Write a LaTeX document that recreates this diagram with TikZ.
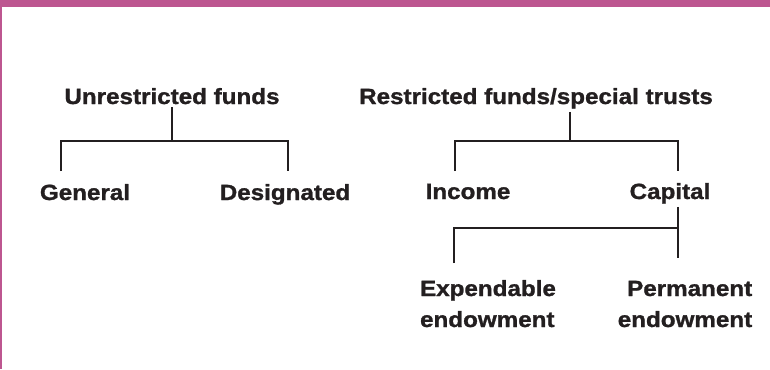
\documentclass[tikz,border=0pt]{standalone}
\usepackage{fontspec}
\setmainfont{Liberation Sans}[BoldFeatures={FakeStretch=1.1,FakeBold=1.2}]
\definecolor{frame}{HTML}{BD5690}
\definecolor{ink}{HTML}{231F20}
\begin{document}
\begin{tikzpicture}[x=1pt,y=-1pt,
  label/.style={inner sep=3pt, font=\fontsize{22}{31}\selectfont\bfseries, text=ink},
  tree/.style={draw=ink, line width=1.6pt}]
\useasboundingbox (0,0) rectangle (770,369);
% frame: top band and left rule
\fill[frame] (0,0) rectangle (770,7);
\fill[frame] (0,0) rectangle (2,369);

% unrestricted funds
\node[label, anchor=base] (ur) at (172,104) {Unrestricted funds};
\node[label, anchor=base] (gen) at (85,200) {General};
\node[label, anchor=base] (des) at (285,200) {Designated};
\coordinate (urJ) at (172,141);
\coordinate (genT) at (61,171);
\coordinate (desT) at (288,171);
\draw[tree] (ur.south) -- (urJ);
\draw[tree] (genT) |- (urJ) -| (desT);

% restricted funds
\node[label, anchor=base] (rf) at (536,104) {Restricted funds/special trusts};
\node[label, anchor=base] (inc) at (468,199) {Income};
\node[label, anchor=base] (cap) at (670,199) {Capital};
\coordinate (rfJ) at (570,141);
\coordinate (incT) at (455,171);
\coordinate (capT) at (678,171);
\draw[tree] (rf.south -| rfJ) -- (rfJ);
\draw[tree] (incT) |- (rfJ) -| (capT);

% capital split
\node[label, anchor=base, align=left] (exp) at (488,327) {Expendable\\endowment};
\node[label, anchor=base, align=right] (perm) at (685,327) {Permanent\\endowment};
\coordinate (capJ) at (678,228);
\coordinate (capB) at (678,258);
\coordinate (expT) at (454,263);
\draw[tree] (cap.south -| capJ) -- (capB);
\draw[tree] (expT) |- (capJ);
\end{tikzpicture}
\end{document}
